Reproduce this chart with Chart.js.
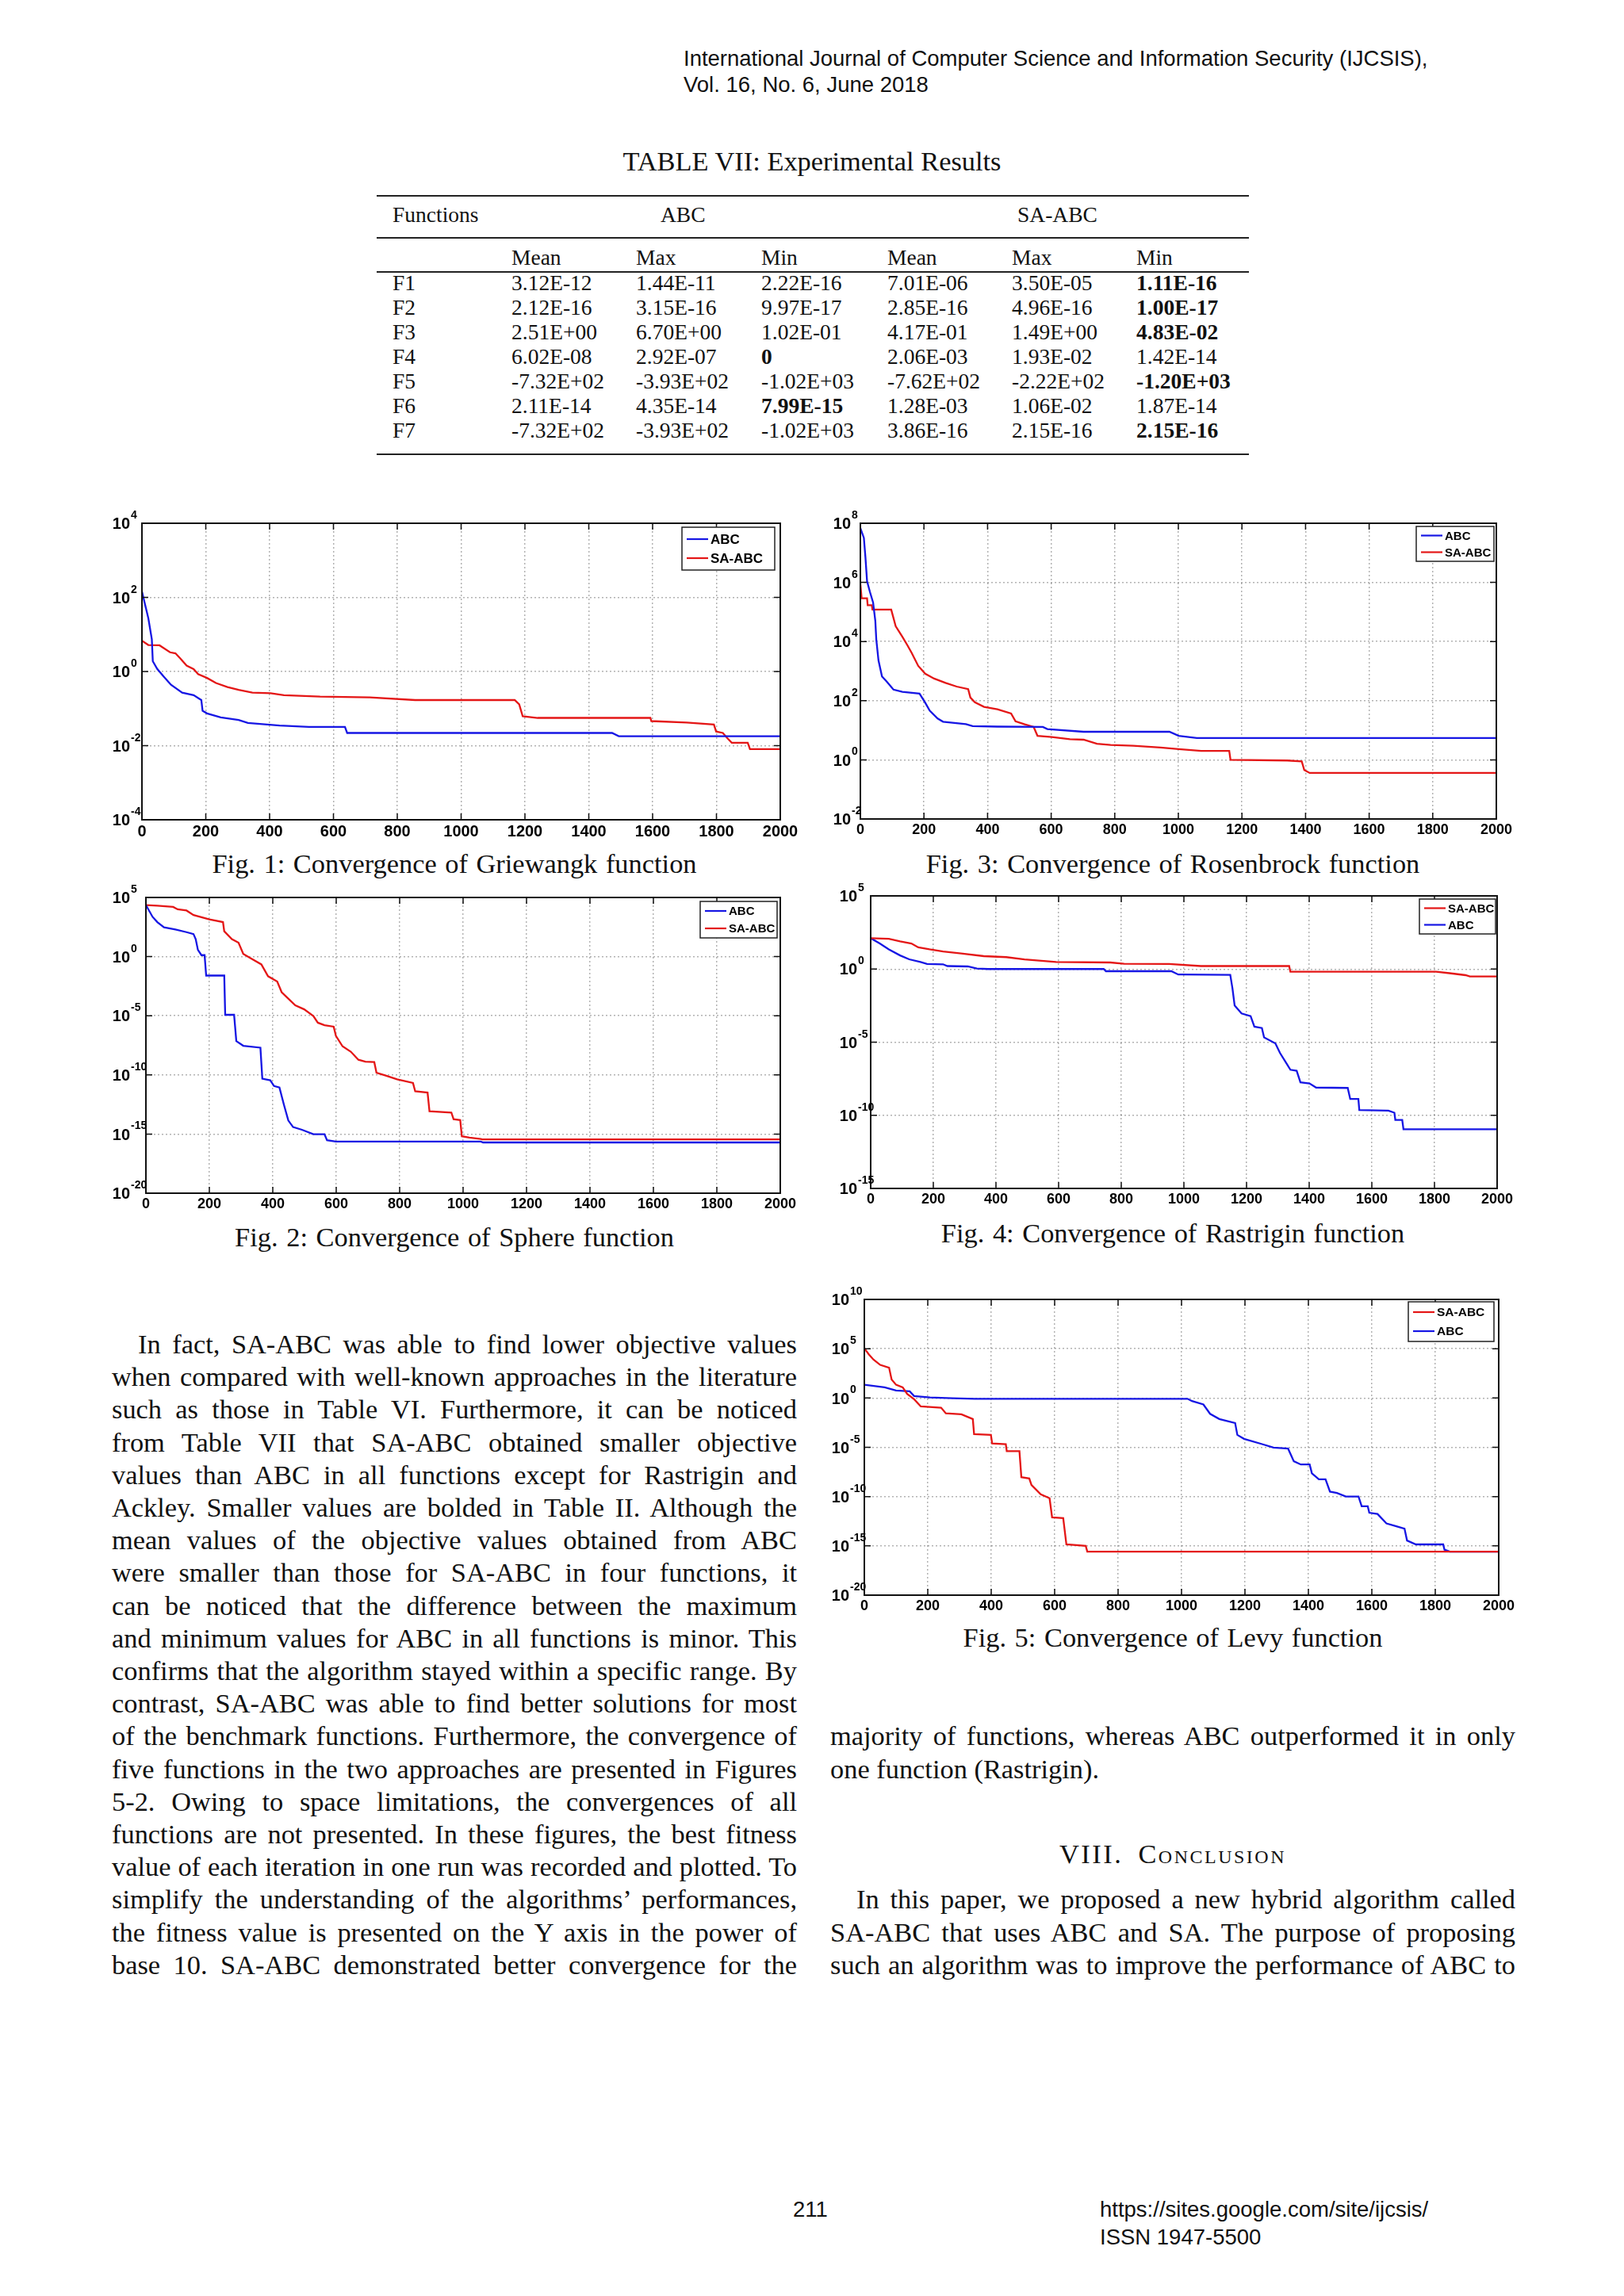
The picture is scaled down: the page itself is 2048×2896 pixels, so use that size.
<!DOCTYPE html>
<html lang="en">
<head>
<meta charset="UTF-8">
<title>Experimental Results - SA-ABC</title>
<script src="https://cdn.jsdelivr.net/npm/chart.js"></script>
<style>
  html, body { margin: 0; padding: 0; background: #fff; }
  body { position: relative; width: 2048px; height: 2896px; overflow: hidden; color: #111;
         font-family: "Liberation Serif", "Times New Roman", serif; }
  .abs { position: absolute; white-space: nowrap; }
  .sans { font-family: "Liberation Sans", Arial, sans-serif; font-size: 27.5px; line-height: 34px; }
  .rule { position: absolute; left: 475px; width: 1100px; height: 2px; background: #222; }
  .cell { position: absolute; font-size: 27.5px; line-height: 31px; white-space: nowrap; }
  .ln { position: absolute; font-size: 34.4px; line-height: 41.2px; white-space: nowrap; }
  .cap { position: absolute; width: 1000px; text-align: center; font-size: 34.4px; line-height: 42px;
         white-space: nowrap; word-spacing: 2px; }
  canvas { position: absolute; }
</style>
</head>
<body>
<div class="abs sans" style="left:862px;top:57px">International Journal of Computer Science and Information Security (IJCSIS),</div>
<div class="abs sans" style="left:862px;top:90px">Vol. 16, No. 6, June 2018</div>

<div class="abs" style="left:0;width:2048px;text-align:center;top:183px;font-size:34.4px;line-height:40px">TABLE VII: Experimental Results</div>
<div class="rule" style="top:246px"></div>
<div class="rule" style="top:299px"></div>
<div class="rule" style="top:342px"></div>
<div class="rule" style="top:572px"></div>
<div class="cell" style="left:495px;top:255px">Functions</div>
<div class="cell" style="left:833px;top:255px">ABC</div>
<div class="cell" style="left:1283px;top:255px">SA-ABC</div>

<!-- captions -->
<div class="cap" style="left:73px;top:1068px">Fig. 1: Convergence of Griewangk function</div>
<div class="cap" style="left:979px;top:1068px">Fig. 3: Convergence of Rosenbrock function</div>
<div class="cap" style="left:73px;top:1539px">Fig. 2: Convergence of Sphere function</div>
<div class="cap" style="left:979px;top:1534px">Fig. 4: Convergence of Rastrigin function</div>
<div class="cap" style="left:979px;top:2044px">Fig. 5: Convergence of Levy function</div>

<div class="cap" style="left:979px;top:2317px;font-variant:small-caps;letter-spacing:2.5px;word-spacing:8px">VIII. Conclusion</div>

<div class="abs sans" style="left:1000px;top:2770px">211</div>
<div class="abs sans" style="left:1387px;top:2770px">https://sites.google.com/site/ijcsis/</div>
<div class="abs sans" style="left:1387px;top:2805px">ISSN 1947-5500</div>

<script>
    // ---- Table VII ----
    const tableFunctions = ["F1", "F2", "F3", "F4", "F5", "F6", "F7"];
    const abcMean = ["3.12E-12", "2.12E-16", "2.51E+00", "6.02E-08", "-7.32E+02", "2.11E-14", "-7.32E+02"];
    const abcMax  = ["1.44E-11", "3.15E-16", "6.70E+00", "2.92E-07", "-3.93E+02", "4.35E-14", "-3.93E+02"];
    const abcMin  = ["2.22E-16", "9.97E-17", "1.02E-01", "0", "-1.02E+03", "7.99E-15", "-1.02E+03"];
    const saMean  = ["7.01E-06", "2.85E-16", "4.17E-01", "2.06E-03", "-7.62E+02", "1.28E-03", "3.86E-16"];
    const saMax   = ["3.50E-05", "4.96E-16", "1.49E+00", "1.93E-02", "-2.22E+02", "1.06E-02", "2.15E-16"];
    const saMin   = ["1.11E-16", "1.00E-17", "4.83E-02", "1.42E-14", "-1.20E+03", "1.87E-14", "2.15E-16"];
    const subHeads = ["Mean", "Max", "Min", "Mean", "Max", "Min"];
    const boldCells = [[0, 6], [1, 6], [2, 6], [3, 3], [4, 6], [5, 3], [6, 6]];

    // ---- convergence curves: [iteration, best fitness] ----
    const xTicks = [0, 200, 400, 600, 800, 1000, 1200, 1400, 1600, 1800, 2000];

    const griewangkExp = [-4, -2, 0, 2, 4];
    const griewangkABC = [[0,145],[20,27.5],[31,7.4],[34,1.9],[48,1.17],[69,0.72],[91,0.44],[126,0.27],[162,0.23],[186,0.17],[190,0.087],[204,0.074],[247,0.058],[303,0.049],[332,0.041],[431,0.035],[523,0.032],[636,0.032],[643,0.022],[1473,0.022],[1494,0.018],[2000,0.018]];
    const griewangkSA = [[0,6.8],[20,5.2],[55,5.1],[88,3.3],[105,3.1],[119,2.3],[140,1.44],[162,1.16],[176,0.85],[204,0.67],[232,0.49],[268,0.38],[303,0.32],[346,0.27],[403,0.26],[445,0.23],[558,0.21],[714,0.2],[856,0.17],[1168,0.17],[1182,0.13],[1193,0.062],[1240,0.056],[1593,0.056],[1596,0.046],[1707,0.042],[1792,0.037],[1799,0.024],[1820,0.022],[1834,0.016],[1848,0.012],[1898,0.012],[1905,0.0081],[2000,0.0081]];

    const rosenbrockExp = [-2, 0, 2, 4, 6, 8];
    const rosenbrockABC = [[0,6.9e7],[11,3.2e7],[16,6.9e6],[21,1.1e6],[30,4.8e5],[40,2.1e5],[47,5.0e4],[50,1.2e4],[57,2.3e3],[68,660],[83,440],[104,237],[132,200],[186,174],[204,85],[218,46],[243,25],[260,19.5],[332,16.2],[353,13.8],[431,13.3],[574,12.9],[588,11],[702,8.9],[972,8.9],[1001,6.5],[1058,5.5],[2000,5.5]];
    const rosenbrockSA = [[0,8.9e5],[4,2.9e5],[21,2.9e5],[23,1.7e5],[36,1.7e5],[38,1.2e5],[97,1.2e5],[111,3.3e4],[132,1.45e4],[147,7.8e3],[161,4.2e3],[182,1.5e3],[204,820],[232,560],[268,400],[303,300],[339,247],[346,128],[360,89],[389,62],[431,51],[474,37],[488,20],[517,15.8],[545,12.9],[557,6.5],[602,5.9],[659,5.0],[702,4.8],[744,3.5],[787,3.2],[858,3.0],[944,2.6],[1001,2.3],[1072,2.0],[1160,2.0],[1164,1.0],[1342,0.95],[1388,0.89],[1396,0.45],[1413,0.36],[2000,0.36]];

    const sphereExp = [-20, -15, -10, -5, 0, 5];
    const sphereABC = [[0,2.3e4],[21,2.3e3],[36,830],[57,295],[93,195],[128,117],[150,81],[157,30],[164,3.7],[175,1.33],[185,1.33],[190,0.025],[247,0.025],[250,1.2e-5],[278,1.2e-5],[285,7.2e-8],[307,2.9e-8],[361,2.0e-8],[367,4.8e-11],[392,3.5e-11],[404,1.15e-11],[421,8.7e-12],[435,3.1e-13],[449,1.4e-14],[464,3.9e-15],[492,2.3e-15],[528,9.8e-16],[563,9.8e-16],[571,3.0e-16],[599,2.3e-16],[1056,2.3e-16],[1063,1.95e-16],[2000,1.95e-16]];
    const sphereSA = [[0,2.3e4],[36,2.0e4],[86,1.6e4],[100,1.0e4],[128,7.9e3],[150,3.3e3],[200,1.4e3],[243,830],[247,138],[271,30],[292,15],[307,1.7],[335,0.62],[364,0.22],[385,0.022],[414,7.8e-3],[428,9.8e-4],[449,2.8e-4],[471,7.6e-5],[499,3.5e-5],[528,9.5e-6],[542,2.6e-6],[563,1.6e-6],[592,1.2e-6],[599,2.0e-7],[620,2.6e-8],[646,9.1e-9],[670,1.9e-9],[692,1.3e-9],[720,1.2e-9],[727,1.5e-10],[756,8.9e-11],[792,4.2e-11],[842,2.1e-11],[849,4.1e-12],[888,3.2e-12],[894,8.5e-14],[963,6.6e-14],[970,1.8e-14],[991,1.5e-14],[996,6.5e-16],[1020,5.0e-16],[1056,3.8e-16],[1060,3.5e-16],[2000,3.5e-16]];

    const rastriginExp = [-15, -10, -5, 0, 5];
    const rastriginSA = [[0,129],[58,117],[94,78],[130,56],[152,30],[188,22],[231,16],[289,11.5],[361,7.6],[433,6.5],[491,4.6],[592,3.0],[765,2.8],[809,2.3],[953,2.2],[1054,1.6],[1336,1.6],[1340,0.65],[1805,0.65],[1848,0.52],[1899,0.38],[1913,0.31],[2000,0.31]];
    const rastriginABC = [[0,129],[29,56],[58,22],[94,8.5],[123,4.6],[159,3.0],[180,2.2],[231,2.1],[245,1.6],[310,1.5],[339,1.07],[375,1.0],[744,1.0],[751,0.71],[960,0.71],[982,0.42],[1148,0.4],[1155,0.048],[1162,3.2e-3],[1184,9.1e-4],[1213,6.0e-4],[1225,1.15e-4],[1249,9.3e-5],[1256,2.1e-5],[1292,8.3e-6],[1307,1.8e-6],[1328,3.4e-7],[1340,1.3e-7],[1360,1.1e-7],[1372,1.8e-8],[1401,1.5e-8],[1422,7.9e-9],[1523,7.4e-9],[1531,1.3e-9],[1557,1.3e-9],[1560,2.3e-10],[1653,2.1e-10],[1672,1.5e-10],[1675,4.8e-11],[1697,4.8e-11],[1701,1.1e-11],[2000,1.1e-11]];

    const levyExp = [-20, -15, -10, -5, 0, 5, 10];
    const levySA = [[0,1.1e5],[14,2.7e4],[29,7.8e3],[50,2.3e3],[78,1.2e3],[86,76],[100,22],[121,12],[135,2.6],[157,0.74],[178,0.14],[242,0.105],[257,0.028],[306,0.022],[342,7.4e-3],[346,2.2e-4],[399,1.8e-4],[403,2.5e-5],[446,2.1e-5],[449,4.0e-6],[489,4.0e-6],[495,9.3e-9],[520,6.9e-9],[527,1.5e-9],[556,1.7e-10],[584,6.8e-11],[592,7.9e-13],[627,6.6e-13],[637,1.4e-15],[698,1.0e-15],[703,2.6e-16],[2000,2.6e-16]];
    const levyABC = [[0,22],[64,12],[100,5.8],[143,4.8],[157,1.6],[207,1.15],[278,0.93],[349,0.83],[1019,0.83],[1033,0.49],[1069,0.22],[1090,0.025],[1119,7.4e-3],[1169,2.9e-3],[1176,1.8e-4],[1197,7.2e-5],[1254,2.1e-5],[1290,9.3e-6],[1336,7.3e-6],[1354,3.8e-7],[1376,1.8e-7],[1404,1.8e-7],[1411,2.3e-8],[1433,5.7e-9],[1454,5.7e-9],[1468,3.2e-10],[1490,2.3e-10],[1518,1.0e-10],[1558,1.0e-10],[1568,1.05e-11],[1587,1.05e-11],[1592,2.3e-12],[1618,1.7e-12],[1646,1.9e-13],[1675,1.0e-13],[1703,5.6e-14],[1711,3.5e-15],[1739,1.4e-15],[1825,1.4e-15],[1829,4.1e-16],[1846,2.6e-16],[2000,2.6e-16]];

    // ---- body text, one entry per printed line ----
    const leftLines = [
        "In fact, SA-ABC was able to find lower objective values",
        "when compared with well-known approaches in the literature",
        "such as those in Table VI. Furthermore, it can be noticed",
        "from Table VII that SA-ABC obtained smaller objective",
        "values than ABC in all functions except for Rastrigin and",
        "Ackley. Smaller values are bolded in Table II. Although the",
        "mean values of the objective values obtained from ABC",
        "were smaller than those for SA-ABC in four functions, it",
        "can be noticed that the difference between the maximum",
        "and minimum values for ABC in all functions is minor. This",
        "confirms that the algorithm stayed within a specific range. By",
        "contrast, SA-ABC was able to find better solutions for most",
        "of the benchmark functions. Furthermore, the convergence of",
        "five functions in the two approaches are presented in Figures",
        "5-2. Owing to space limitations, the convergences of all",
        "functions are not presented. In these figures, the best fitness",
        "value of each iteration in one run was recorded and plotted. To",
        "simplify the understanding of the algorithms\u2019 performances,",
        "the fitness value is presented on the Y axis in the power of",
        "base 10. SA-ABC demonstrated better convergence for the"
    ];
    const rightLinesA = [
        "majority of functions, whereas ABC outperformed it in only",
        "one function (Rastrigin)."
    ];
    const rightLinesB = [
        "In this paper, we proposed a new hybrid algorithm called",
        "SA-ABC that uses ABC and SA. The purpose of proposing",
        "such an algorithm was to improve the performance of ABC to"
    ];

    // table cells
    function addCell(text, left, top, bold) {
        const d = document.createElement("div");
        d.className = "cell";
        d.style.left = left + "px";
        d.style.top = top + "px";
        if (bold) d.style.fontWeight = "bold";
        d.textContent = text;
        document.body.appendChild(d);
    }
    const colX = [495, 645, 802, 960, 1119, 1276, 1433];
    subHeads.forEach((h, i) => addCell(h, colX[i + 1], 308.5, false));
    tableFunctions.forEach((f, r) => {
        const row = [f, abcMean[r], abcMax[r], abcMin[r], saMean[r], saMax[r], saMin[r]];
        row.forEach((v, c) => {
            const bold = boldCells.some(b => b[0] === r && b[1] === c);
            addCell(v, colX[c], 340.5 + r * 31.05, bold);
        });
    });

    // justified text lines (each line placed as printed)
    const LEAD = 41.2;
    function placeLines(lines, left, width, top0, opts) {
        lines.forEach((text, i) => {
            const ind = (opts.indentFirst && i === 0) ? 33 : 0;
            const d = document.createElement("div");
            d.className = "ln";
            d.style.left = (left + ind) + "px";
            d.style.top = (top0 + i * LEAD) + "px";
            const s = document.createElement("span");
            s.textContent = text;
            d.appendChild(s);
            document.body.appendChild(d);
            const justify = !(opts.lastRagged && i === lines.length - 1);
            if (justify) {
                const w = s.getBoundingClientRect().width;
                const gaps = text.split(" ").length - 1;
                s.style.wordSpacing = ((width - ind - w) / gaps) + "px";
            }
        });
    }
    const top0 = 1675;
    placeLines(leftLines, 141, 864, top0, { indentFirst: true, lastRagged: false });
    placeLines(rightLinesA, 1047, 864, top0 + 12 * LEAD, { indentFirst: false, lastRagged: true });
    placeLines(rightLinesB, 1047, 864, top0 + 17 * LEAD, { indentFirst: true, lastRagged: false });

    // ---- charts ----
    const BLUE = "#1616e4";
    const RED = "#e41616";
    const SANS = '"Liberation Sans", Arial, sans-serif';

    const figures = [
        { plot: [179, 660, 984, 1034], yExp: griewangkExp, xFont: 20, yFont: 20, yGap: 15,
          legend: { font: 17, row: 24, pad: 15, w: 117, inset: 7, drop: 5 },
          series: [{ label: "ABC", data: griewangkABC, color: BLUE }, { label: "SA-ABC", data: griewangkSA, color: RED }] },
        { plot: [1085, 660, 1887, 1033], yExp: rosenbrockExp, xFont: 18, yFont: 20, yGap: 12,
          legend: { font: 15, row: 21, pad: 11.5, w: 98, inset: 3, drop: 4 },
          series: [{ label: "ABC", data: rosenbrockABC, color: BLUE }, { label: "SA-ABC", data: rosenbrockSA, color: RED }] },
        { plot: [184, 1132, 984, 1505], yExp: sphereExp, xFont: 18, yFont: 20, yGap: 20,
          legend: { font: 15, row: 22, pad: 12, w: 97, inset: 4, drop: 5 },
          series: [{ label: "ABC", data: sphereABC, color: BLUE }, { label: "SA-ABC", data: sphereSA, color: RED }] },
        { plot: [1098, 1130, 1888, 1499], yExp: rastriginExp, xFont: 18, yFont: 20, yGap: 17,
          legend: { font: 15, row: 21, pad: 11.5, w: 96, inset: 2, drop: 4 },
          series: [{ label: "SA-ABC", data: rastriginSA, color: RED }, { label: "ABC", data: rastriginABC, color: BLUE }] },
        { plot: [1090, 1639, 1890, 2012], yExp: levyExp, xFont: 18, yFont: 20, yGap: 19,
          legend: { font: 15.5, row: 24, pad: 13, w: 108, inset: 6, drop: 3 },
          series: [{ label: "SA-ABC", data: levySA, color: RED }, { label: "ABC", data: levyABC, color: BLUE }] }
    ];

    // MATLAB-like box: inward ticks, 10^n labels, boxed legend
    function axesPlugin(fig) {
        return {
            id: "matlabAxes",
            afterDraw(chart) {
                const { ctx, chartArea: a, scales: { x, y } } = chart;
                ctx.save();
                ctx.strokeStyle = "#111";
                ctx.lineWidth = 1.5;
                ctx.beginPath();
                x.ticks.forEach(t => {
                    const p = x.getPixelForValue(t.value);
                    ctx.moveTo(p, a.bottom); ctx.lineTo(p, a.bottom - 8);
                    ctx.moveTo(p, a.top); ctx.lineTo(p, a.top + 8);
                });
                y.ticks.forEach(t => {
                    const p = y.getPixelForValue(t.value);
                    ctx.moveTo(a.left, p); ctx.lineTo(a.left + 8, p);
                    ctx.moveTo(a.right, p); ctx.lineTo(a.right - 8, p);
                });
                ctx.stroke();
                ctx.lineWidth = 2;
                ctx.strokeRect(a.left, a.top, a.right - a.left, a.bottom - a.top);

                // y labels as 10 with a raised exponent
                ctx.fillStyle = "#000";
                const f = fig.yFont;
                y.ticks.forEach(t => {
                    const p = y.getPixelForValue(t.value);
                    const n = Math.round(Math.log10(t.value));
                    const bx = a.left - fig.yGap;
                    ctx.font = `bold ${f}px ${SANS}`;
                    ctx.textAlign = "right";
                    ctx.textBaseline = "alphabetic";
                    ctx.fillText("10", bx, p + 0.36 * f);
                    ctx.font = `bold ${Math.round(f * 0.68)}px ${SANS}`;
                    ctx.textAlign = "left";
                    ctx.fillText(String(n), bx + 1, p - 0.3 * f);
                });

                // legend
                const lg = fig.legend;
                const ds = chart.data.datasets;
                const h = lg.row * (ds.length - 1) + 2 * lg.pad;
                const bx = a.right - lg.inset - lg.w;
                const by = a.top + lg.drop;
                ctx.fillStyle = "#fff";
                ctx.fillRect(bx, by, lg.w, h);
                ctx.strokeStyle = "#222";
                ctx.lineWidth = 1.5;
                ctx.strokeRect(bx, by, lg.w, h);
                ctx.font = `bold ${lg.font}px ${SANS}`;
                ctx.textBaseline = "middle";
                ctx.textAlign = "left";
                ds.forEach((d, i) => {
                    const ry = by + lg.pad + i * lg.row;
                    ctx.strokeStyle = d.borderColor;
                    ctx.lineWidth = 2.2;
                    ctx.beginPath();
                    ctx.moveTo(bx + 6, ry);
                    ctx.lineTo(bx + 33, ry);
                    ctx.stroke();
                    ctx.fillStyle = "#000";
                    ctx.fillText(d.label, bx + 36, ry + 1);
                });
                ctx.restore();
            }
        };
    }

    figures.forEach(fig => {
        const [L, T, R, B] = fig.plot;
        const padL = 70, padT = 30, padR = 45, padB = 40;
        const canvas = document.createElement("canvas");
        canvas.width = R - L + padL + padR;
        canvas.height = B - T + padT + padB;
        canvas.style.left = (L - padL) + "px";
        canvas.style.top = (T - padT) + "px";
        canvas.style.width = canvas.width + "px";
        canvas.style.height = canvas.height + "px";
        document.body.appendChild(canvas);

        const gridStyle = { color: "rgba(0,0,0,0.3)", lineWidth: 1.5, drawTicks: false };
        new Chart(canvas, {
            type: "line",
            data: {
                datasets: fig.series.map(s => ({
                    label: s.label,
                    data: s.data,
                    borderColor: s.color,
                    backgroundColor: s.color,
                    borderWidth: 2.3,
                    pointRadius: 0,
                    tension: 0,
                    fill: false
                }))
            },
            options: {
                responsive: false,
                animation: false,
                events: [],
                layout: { padding: { left: 0, top: padT, right: padR, bottom: 0 } },
                plugins: { legend: { display: false }, tooltip: { enabled: false } },
                scales: {
                    x: {
                        type: "linear",
                        min: 0,
                        max: 2000,
                        afterBuildTicks: s => { s.ticks = xTicks.map(v => ({ value: v })); },
                        afterFit: s => { s.height = padB; },
                        ticks: {
                            color: "#000",
                            padding: 3,
                            maxRotation: 0,
                            autoSkip: false,
                            font: { family: SANS, weight: "bold", size: fig.xFont },
                            callback: v => String(v)
                        },
                        grid: gridStyle,
                        border: { display: false, dash: [2, 3] }
                    },
                    y: {
                        type: "logarithmic",
                        min: Math.pow(10, fig.yExp[0]),
                        max: Math.pow(10, fig.yExp[fig.yExp.length - 1]),
                        afterBuildTicks: s => { s.ticks = fig.yExp.map(e => ({ value: Math.pow(10, e) })); },
                        afterFit: s => { s.width = padL; },
                        ticks: { display: false },
                        grid: gridStyle,
                        border: { display: false, dash: [2, 3] }
                    }
                }
            },
            plugins: [axesPlugin(fig)]
        });
    });
</script>
</body>
</html>
